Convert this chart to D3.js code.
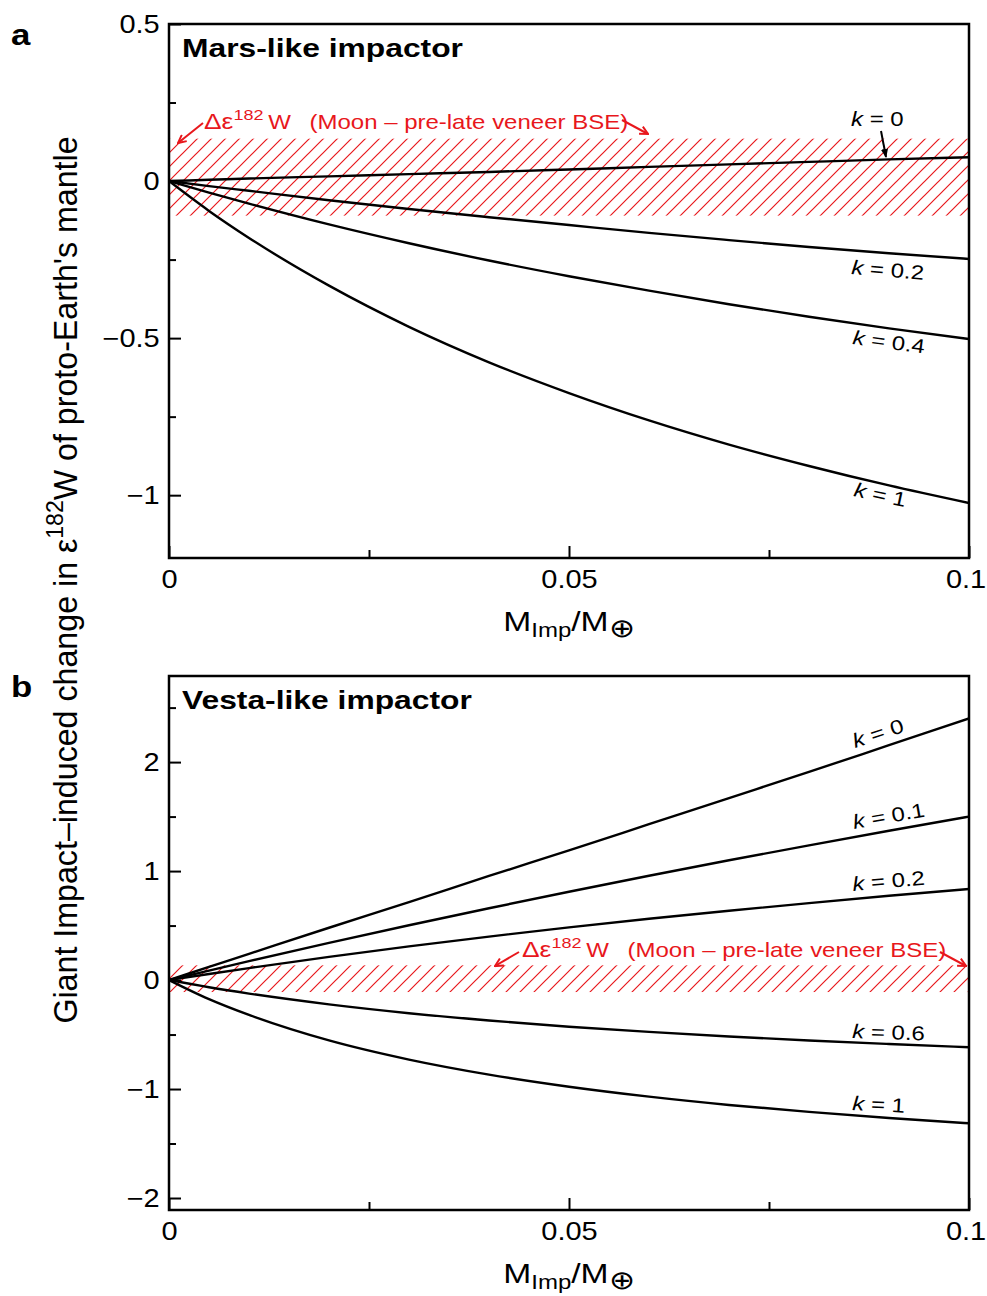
<!DOCTYPE html>
<html>
<head>
<meta charset="utf-8">
<script src="https://cdn.jsdelivr.net/npm/d3@7"></script>
<style>
  body { margin: 0; background: #fff; }
  svg { display: block; font-family: "Liberation Sans", Arial, Helvetica, sans-serif; }
</style>
</head>
<body>
<div class="figure"></div>
<script>
// impactor mass fraction (x) shared by both panels
var massFrac = [0, 0.005, 0.01, 0.02, 0.03, 0.04, 0.05, 0.06, 0.07, 0.08, 0.09, 0.1];

// panel a, Mars-like impactor
var marsK0  = [0, 0.004, 0.008, 0.015, 0.022, 0.029, 0.037, 0.045, 0.053, 0.061, 0.069, 0.076];
var marsK02 = [0, -0.016, -0.031, -0.061, -0.089, -0.115, -0.14, -0.165, -0.188, -0.21, -0.23, -0.248];
var marsK04 = [0, -0.037, -0.072, -0.138, -0.198, -0.253, -0.303, -0.349, -0.392, -0.432, -0.469, -0.503];
var marsK1  = [0, -0.095, -0.181, -0.333, -0.464, -0.577, -0.675, -0.762, -0.839, -0.907, -0.969, -1.025];

// panel b, Vesta-like impactor
var vestaK0  = [0, 0.12, 0.24, 0.48, 0.715, 0.955, 1.19, 1.43, 1.67, 1.91, 2.155, 2.40];
var vestaK01 = [0, 0.087, 0.173, 0.341, 0.503, 0.659, 0.81, 0.957, 1.099, 1.236, 1.37, 1.50];
var vestaK02 = [0, 0.056, 0.110, 0.213, 0.309, 0.399, 0.483, 0.562, 0.636, 0.706, 0.773, 0.835];
var vestaK06 = [0, -0.066, -0.124, -0.223, -0.304, -0.371, -0.428, -0.476, -0.518, -0.555, -0.587, -0.616];
var vestaK1  = [0, -0.175, -0.32, -0.554, -0.73, -0.868, -0.979, -1.07, -1.146, -1.21, -1.266, -1.314];

// Moon - pre-late veneer BSE band
var moonBand = [-0.11, 0.135];

// ticks
var xMajor = [0, 0.05, 0.1];
var xMajorLabels = ["0", "0.05", "0.1"];
var xMinor = [0.025, 0.075];
var marsYMajor = [-1, -0.5, 0, 0.5];
var marsYLabels = ["\u22121", "\u22120.5", "0", "0.5"];
var marsYMinor = [-0.75, -0.25, 0.25];
var vestaYMajor = [-2, -1, 0, 1, 2];
var vestaYLabels = ["\u22122", "\u22121", "0", "1", "2"];
var vestaYMinor = [-1.5, -0.5, 0.5, 1.5, 2.5];

var svgWidth = 987;
var svgHeight = 1296;
var stretch = 1.2; // text in the figure is a bit wide

var svg = d3.select(".figure")
  .append("svg")
  .attr("width", svgWidth)
  .attr("height", svgHeight);

var defs = svg.append("defs");

// red diagonal hatching
defs.append("pattern")
  .attr("id", "hatch")
  .attr("patternUnits", "userSpaceOnUse")
  .attr("width", 14)
  .attr("height", 14)
  .append("path")
  .attr("d", "M0,14 L14,0 M-3,3 L3,-3 M11,17 L17,11")
  .attr("stroke", "#e8171c")
  .attr("stroke-width", 1.2);

// arrow heads
defs.append("marker")
  .attr("id", "redHead")
  .attr("viewBox", "0 0 10 10")
  .attr("refX", 9).attr("refY", 5)
  .attr("markerWidth", 10).attr("markerHeight", 10)
  .attr("markerUnits", "userSpaceOnUse")
  .attr("orient", "auto")
  .append("path")
  .attr("d", "M1,1 L9,5 L1,9")
  .attr("fill", "none")
  .attr("stroke", "#e8171c")
  .attr("stroke-width", 2);

defs.append("marker")
  .attr("id", "blackHead")
  .attr("viewBox", "0 0 10 10")
  .attr("refX", 9).attr("refY", 5)
  .attr("markerWidth", 9).attr("markerHeight", 9)
  .attr("markerUnits", "userSpaceOnUse")
  .attr("orient", "auto")
  .append("path")
  .attr("d", "M0,1 L10,5 L0,9 Z")
  .attr("fill", "#000");

// helper for a stretched text
function label(g, x, y, angle, anchor, size) {
  return g.append("text")
    .attr("transform", `translate(${x},${y}) rotate(${angle}) scale(${stretch},1)`)
    .attr("text-anchor", anchor)
    .attr("font-size", size);
}

function kLabel(g, x, y, angle, value) {
  var t = label(g, x, y, angle, "start", 20);
  t.append("tspan").attr("font-style", "italic").text("k");
  t.append("tspan").text(" = " + value);
}

function deltaNote(g, x, y) {
  var t = label(g, x, y, 0, "start", 20).attr("fill", "#e8171c");
  t.append("tspan").attr("font-size", 22).text("\u0394\u03b5");
  t.append("tspan").attr("font-size", 15).attr("dy", -9).text("182");
  t.append("tspan").attr("dy", 9).text("\u2009W\u2002 (Moon \u2013 pre-late veneer BSE)");
}

function drawPanel(cfg) {
  var xScale = d3.scaleLinear().domain([0, 0.1]).range([169, 969]);
  var yScale = d3.scaleLinear().domain(cfg.yDomain).range([cfg.bottom, cfg.top]);
  var g = svg.append("g");

  var clipId = "clip" + cfg.name;
  defs.append("clipPath").attr("id", clipId)
    .append("rect")
    .attr("x", xScale(0)).attr("y", cfg.top)
    .attr("width", xScale(0.1) - xScale(0))
    .attr("height", cfg.bottom - cfg.top);

  var plot = g.append("g").attr("clip-path", `url(#${clipId})`);

  // hatched band
  plot.append("rect")
    .attr("x", xScale(0))
    .attr("y", yScale(moonBand[1]))
    .attr("width", xScale(0.1) - xScale(0))
    .attr("height", yScale(moonBand[0]) - yScale(moonBand[1]))
    .attr("fill", "url(#hatch)");

  var drawLine = d3.line()
    .x((d, i) => xScale(massFrac[i]))
    .y(d => yScale(d))
    .curve(d3.curveMonotoneX);

  cfg.series.forEach(function(s) {
    plot.append("path")
      .attr("d", drawLine(s))
      .attr("fill", "none")
      .attr("stroke", "#000")
      .attr("stroke-width", 2.4)
      .attr("stroke-linejoin", "round");
  });

  // axes with inward ticks
  var leftAxis = d3.axisLeft(yScale)
    .tickValues(cfg.yMajor)
    .tickFormat((d, i) => cfg.yLabels[i])
    .tickSizeInner(-12).tickSizeOuter(0).tickPadding(8);
  var leftMinor = d3.axisLeft(yScale)
    .tickValues(cfg.yMinor).tickFormat("")
    .tickSizeInner(-7).tickSizeOuter(0);
  var bottomAxis = d3.axisBottom(xScale)
    .tickValues(xMajor)
    .tickFormat((d, i) => xMajorLabels[i])
    .tickSizeInner(-12).tickSizeOuter(0).tickPadding(12);
  var bottomMinor = d3.axisBottom(xScale)
    .tickValues(xMinor).tickFormat("")
    .tickSizeInner(-8).tickSizeOuter(0);

  [
    [leftAxis, `translate(169,0)`],
    [leftMinor, `translate(169,0)`],
    [bottomAxis, `translate(0,${cfg.bottom})`],
    [bottomMinor, `translate(0,${cfg.bottom})`]
  ].forEach(function(a) {
    var ax = g.append("g").attr("transform", a[1]).call(a[0]);
    ax.select(".domain").remove();
    ax.selectAll("line").attr("stroke", "#000").attr("stroke-width", 2);
    ax.selectAll("text")
      .attr("font-family", null)
      .attr("font-size", 25)
      .attr("fill", "#000")
      .attr("transform", "scale(1.16,1)");
  });

  // keep the last x label inside the page
  g.selectAll(".tick text")
    .filter(d => d === 0.1)
    .attr("x", -3);

  // frame
  g.append("rect")
    .attr("x", xScale(0)).attr("y", cfg.top)
    .attr("width", xScale(0.1) - xScale(0))
    .attr("height", cfg.bottom - cfg.top)
    .attr("fill", "none")
    .attr("stroke", "#000")
    .attr("stroke-width", 2.5);

  // panel title
  label(g, 182, cfg.top + 33, 0, "start", 26.5)
    .attr("font-weight", "bold")
    .text(cfg.title);

  // panel letter
  label(g, 11, cfg.top + 21, 0, "start", 29)
    .attr("font-weight", "bold")
    .text(cfg.letter);

  // x axis title
  var xt = label(g, 569, cfg.bottom + 73, 0, "middle", 28);
  xt.append("tspan").text("M");
  xt.append("tspan").attr("font-size", 20).attr("dy", 6).text("Imp");
  xt.append("tspan").attr("dy", -6).text("/M");
  xt.append("tspan").attr("font-size", 26).attr("dy", 6).text("\u2295");

  return { g: g, xScale: xScale, yScale: yScale };
}

var panelA = drawPanel({
  name: "a", letter: "a", title: "Mars-like impactor",
  top: 24, bottom: 558, yDomain: [-1.2, 0.5],
  yMajor: marsYMajor, yLabels: marsYLabels, yMinor: marsYMinor,
  series: [marsK0, marsK02, marsK04, marsK1]
});

var panelB = drawPanel({
  name: "b", letter: "b", title: "Vesta-like impactor",
  top: 676, bottom: 1210, yDomain: [-2.11, 2.79],
  yMajor: vestaYMajor, yLabels: vestaYLabels, yMinor: vestaYMinor,
  series: [vestaK0, vestaK01, vestaK02, vestaK06, vestaK1]
});

// curve labels, panel a
kLabel(panelA.g, 851, 126, 0, "0");
kLabel(panelA.g, 851, 274, 4.5, "0.2");
kLabel(panelA.g, 852, 344, 7.5, "0.4");
kLabel(panelA.g, 853, 496, 12, "1");

panelA.g.append("line")
  .attr("x1", 881).attr("y1", 131)
  .attr("x2", 886).attr("y2", 157)
  .attr("stroke", "#000").attr("stroke-width", 2)
  .attr("marker-end", "url(#blackHead)");

// curve labels, panel b
kLabel(panelB.g, 855, 748, -18, "0");
kLabel(panelB.g, 854, 829, -10, "0.1");
kLabel(panelB.g, 853, 891, -5, "0.2");
kLabel(panelB.g, 852, 1038, 2, "0.6");
kLabel(panelB.g, 852, 1110, 3, "1");

// red notes with arrows
deltaNote(panelA.g, 204, 129);
deltaNote(panelB.g, 522, 957);

[[203, 123, 178, 143], [622, 120, 648, 134], [519, 952, 495, 966], [940, 952, 966, 966]]
  .forEach(function(a) {
    svg.append("line")
      .attr("x1", a[0]).attr("y1", a[1])
      .attr("x2", a[2]).attr("y2", a[3])
      .attr("stroke", "#e8171c").attr("stroke-width", 2)
      .attr("marker-end", "url(#redHead)");
  });

// shared y axis title
var yt = svg.append("text")
  .attr("transform", `translate(77,580) rotate(-90) scale(1.15,1.2)`)
  .attr("text-anchor", "middle")
  .attr("font-size", 28);
yt.append("tspan").text("Giant Impact\u2013induced change in \u03b5");
yt.append("tspan").attr("font-size", 20).attr("dy", -12).text("182");
yt.append("tspan").attr("dy", 12).text("W of proto-Earth's mantle");
</script>
</body>
</html>
